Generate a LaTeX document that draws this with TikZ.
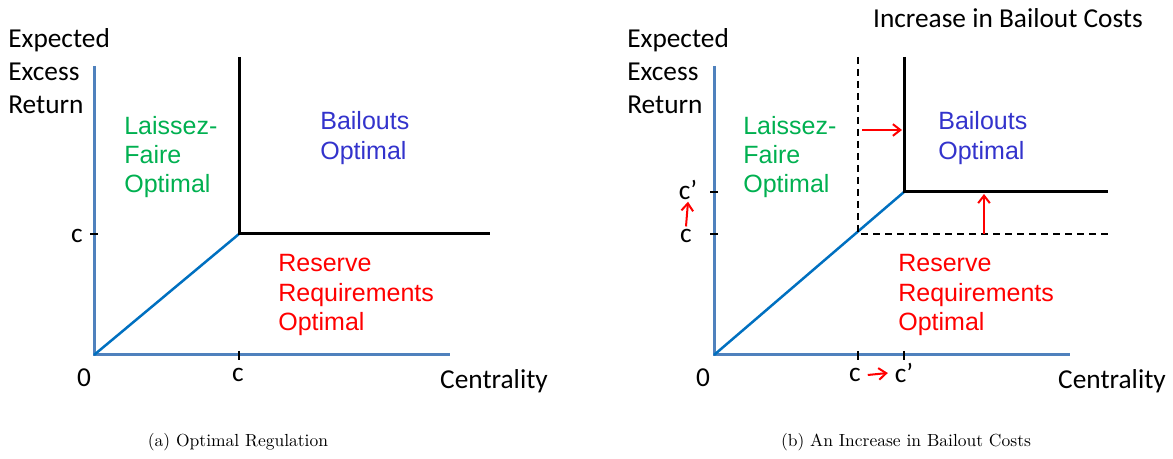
\documentclass[tikz,border=0pt]{standalone}
\usepackage{fontspec}
\setmainfont{Latin Modern Roman}
\newfontfamily\axisfont{Carlito}
\newfontfamily\regionfont{Liberation Sans}
\usetikzlibrary{arrows.meta}
\definecolor{axisblue}{RGB}{79,129,189}
\definecolor{lineblue}{RGB}{0,112,192}
\definecolor{lfgreen}{RGB}{0,176,80}
\definecolor{boblue}{RGB}{51,51,204}
\tikzset{
  axisline/.style = {axisblue, line width=1.8pt},
  diagline/.style = {lineblue, line width=1.5pt},
  border/.style = {black, line width=1.8pt},
  oldborder/.style = {black, line width=1.5pt, dash pattern=on 4.4pt off 2.8pt},
  tickmark/.style = {black, line width=1.5pt},
  movearrow/.style = {red, line width=1.2pt, -{Straight Barb[length=4.5pt,width=7pt]}},
  axislabel/.style = {font=\axisfont\fontsize{16.4}{19.8}\selectfont, inner sep=0pt, align=left},
  region/.style = {font=\regionfont\fontsize{15}{17.6}\selectfont, inner sep=0pt, align=left},
  captiontext/.style = {font=\fontsize{10.5}{12}\selectfont, inner sep=0pt}
}
\begin{document}
\begin{tikzpicture}[x=0.6pt, y=-0.6pt]
  \useasboundingbox (0,0) rectangle (1173,459);
  % (a) optimal regulation
  \coordinate (aO) at (94,355);
  \coordinate (aYtop) at (94,66);
  \coordinate (aXend) at (450,355);
  \coordinate (aK) at (239,234);
  \coordinate (aKtop) at (239,57);
  \coordinate (aKright) at (490,234);
  \draw[axisline] (aYtop) -- (aO) -- (aXend);
  \draw[diagline] (aO) -- (aK);
  \draw[border] (aKtop) -- (aK) -- (aKright);
  \draw[tickmark] (90,234) -- (98,234);
  \draw[tickmark] (239,351) -- (239,360);
  \node[axislabel, anchor=west] (aYlab) at (8,71) {Expected\\Excess\\Return};
  \node[axislabel] (aYc) at (77,236) {c};
  \node[axislabel] (aZero) at (84,378) {0};
  \node[axislabel] (aXc) at (238,375) {c};
  \node[axislabel] (aXlab) at (494,381) {Centrality};
  \node[region, lfgreen, anchor=west] (aLF) at (124,157) {Laissez-\\Faire\\Optimal};
  \node[region, boblue, anchor=west] (aBO) at (320,138) {Bailouts\\Optimal};
  \node[region, red, anchor=west] (aRR) at (278,295) {Reserve\\Requirements\\Optimal};
  \node[captiontext] (acap) at (238,442) {(a) Optimal Regulation};
  % (b) an increase in bailout costs
  \coordinate (bO) at (714,355);
  \coordinate (bYtop) at (714,66);
  \coordinate (bXend) at (1070,355);
  \coordinate (bK) at (858,234);
  \coordinate (bKtop) at (858,57);
  \coordinate (bKright) at (1110,234);
  \coordinate (bN) at (904,192);
  \coordinate (bNtop) at (904,57);
  \coordinate (bNright) at (1108,192);
  \draw[axisline] (bYtop) -- (bO) -- (bXend);
  \draw[diagline] (bO) -- (bN);
  \draw[oldborder] (bKtop) -- (bK) -- (bKright);
  \draw[border] (bNtop) -- (bN) -- (bNright);
  \draw[tickmark] (710,234) -- (718,234);
  \draw[tickmark] (710,192) -- (718,192);
  \draw[tickmark] (858,351) -- (858,360);
  \draw[tickmark] (904,351) -- (904,360);
  \coordinate (bHfrom) at (862,130);
  \coordinate (bHto) at (902,130);
  \coordinate (bVfrom) at (984,234);
  \coordinate (bVto) at (984,194);
  \draw[movearrow] (bHfrom) -- (bHto);
  \draw[movearrow] (bVfrom) -- (bVto);
  \node[axislabel] (btitle) at (1008,18) {Increase in Bailout Costs};
  \node[axislabel, anchor=west] (bYlab) at (627,71) {Expected\\Excess\\Return};
  \node[axislabel] (bYc) at (686,236) {c};
  \node[axislabel] (bYcp) at (688,190) {c’};
  \draw[movearrow] ([yshift=1.5pt]bYc.north) -- ([yshift=-1pt]bYcp.south);
  \node[axislabel] (bZero) at (703,378) {0};
  \node[axislabel] (bXc) at (855,375) {c};
  \node[axislabel] (bXcp) at (904,373) {c’};
  \draw[movearrow] ([xshift=4pt]bXc.east) -- ([xshift=-4pt]bXcp.west);
  \node[axislabel] (bXlab) at (1112,381) {Centrality};
  \node[region, lfgreen, anchor=west] (bLF) at (743,157) {Laissez-\\Faire\\Optimal};
  \node[region, boblue, anchor=west] (bBO) at (938,138) {Bailouts\\Optimal};
  \node[region, red, anchor=west] (bRR) at (898,295) {Reserve\\Requirements\\Optimal};
  \node[captiontext] (bcap) at (906,442) {(b) An Increase in Bailout Costs};
\end{tikzpicture}
\end{document}
